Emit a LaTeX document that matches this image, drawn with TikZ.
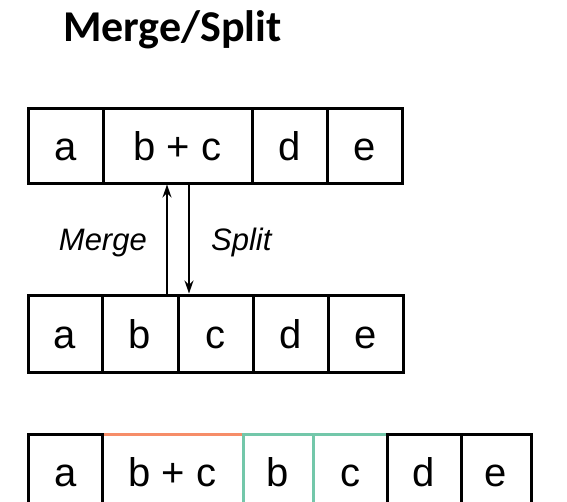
\documentclass[tikz,border=0pt]{standalone}
\usepackage{fontspec}
\setmainfont{Liberation Sans}
\newfontfamily\titlefont{Carlito}
\usetikzlibrary{arrows.meta}
\definecolor{splitorange}{RGB}{246,141,104}
\definecolor{splitgreen}{RGB}{115,199,170}
\tikzset{
  cell/.style={draw=black, line width=3pt, rectangle, inner sep=0pt,
    text height=29pt, text depth=0pt,
    font=\fontsize{40}{48}\selectfont},
  orangecell/.style={cell, draw=splitorange},
  greencell/.style={cell, draw=splitgreen},
  arr/.style={line width=1.4pt, -{Stealth[length=13pt,width=9pt]}},
  lbl/.style={font=\fontsize{31}{36}\selectfont\itshape, inner sep=0pt}
}
\begin{document}
\begin{tikzpicture}[x=1pt,y=-1pt]
\useasboundingbox (0,0) rectangle (567,501);
\clip (0,0) rectangle (567,501);
% title
\node[anchor=base west, inner sep=0pt, font=\fontsize{44}{52}\selectfont\titlefont\bfseries] (title) at (63,41) {Merge/Split};
% top row
\node[cell, minimum width=74.5pt, minimum height=75pt] (ta) at (65.75,145.5) {a};
\node[cell, minimum width=149pt, minimum height=75pt] (tbc) at (177.5,145.5) {b + c};
\node[cell, minimum width=75pt, minimum height=75pt] (td) at (289.5,145.5) {d};
\node[cell, minimum width=75pt, minimum height=75pt] (te) at (364.5,145.5) {e};
% middle row
\node[cell, minimum width=74pt, minimum height=77pt] (ma) at (65,333.5) {a};
\node[cell, minimum width=76pt, minimum height=77pt] (mb) at (140,333.5) {b};
\node[cell, minimum width=75pt, minimum height=77pt] (mc) at (215.5,333.5) {c};
\node[cell, minimum width=75pt, minimum height=77pt] (md) at (290.5,333.5) {d};
\node[cell, minimum width=75pt, minimum height=77pt] (me) at (365.5,333.5) {e};
% arrows
\coordinate (upx) at (167,0);
\coordinate (downx) at (189,0);
\draw[arr] (mb.north -| upx) -- (tbc.south -| upx);
\draw[arr] (tbc.south -| downx) -- (mb.north -| downx);
\node[lbl, anchor=base east] (merge) at (147,250) {Merge};
\node[lbl, anchor=base west] (split) at (211,250) {Split};
% bottom row
\node[orangecell, minimum width=141pt, minimum height=76pt] (bbc) at (172.5,472) {b + c};
\node[greencell, minimum width=70pt, minimum height=76pt] (bb) at (278,472) {b};
\node[greencell, minimum width=74pt, minimum height=76pt] (bc) at (350,472) {c};
\node[cell, minimum width=73.5pt, minimum height=76pt] (ba) at (65.25,472) {a};
\node[cell, minimum width=74pt, minimum height=76pt] (bd) at (424,472) {d};
\node[cell, minimum width=70pt, minimum height=76pt] (be) at (496,472) {e};
\end{tikzpicture}
\end{document}
